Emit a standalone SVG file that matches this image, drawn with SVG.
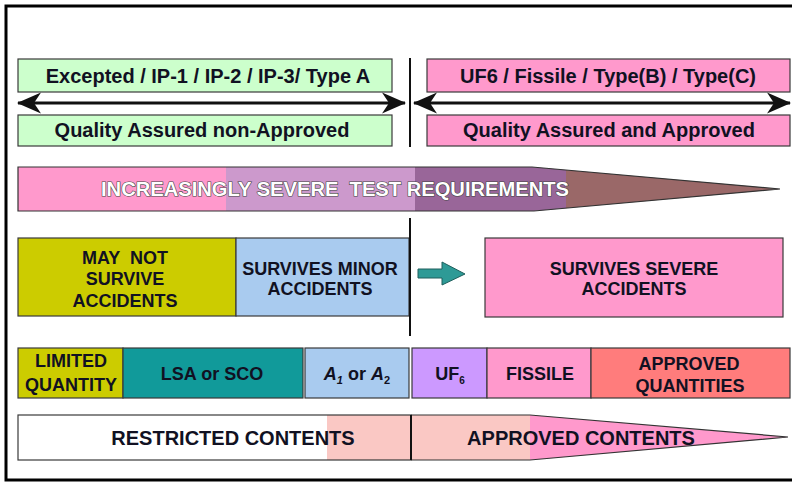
<svg xmlns="http://www.w3.org/2000/svg" width="794" height="484" viewBox="0 0 794 484">
<style>
  .box{stroke:#3a3a3a;stroke-width:1.2}
  .t{font-family:"Liberation Sans",Arial,sans-serif;font-weight:bold;fill:#111122;text-anchor:middle}
  .t20{font-size:20px}
  .t18{font-size:18px}
  .band{font-family:"Liberation Sans Narrow","Liberation Sans",Arial,sans-serif;font-size:20px;font-weight:bold;fill:#ffffff;stroke:#444444;stroke-width:1.2;paint-order:stroke;text-anchor:middle}
  .dbl{stroke:#111;stroke-width:3;fill:none}
  .div{stroke:#111;stroke-width:2}
</style>
<defs>
  <marker id="ah" markerUnits="userSpaceOnUse" markerWidth="24" markerHeight="22" viewBox="0 0 24 22" refX="23" refY="11" orient="auto-start-reverse">
    <path d="M24,11 L0,0.5 L7,11 L0,21.5 Z" fill="#111"/>
  </marker>
</defs>
<rect width="794" height="484" fill="#ffffff"/>
<path d="M792,6 H6 V480 H792" fill="none" stroke="#000" stroke-width="3"/>

<g id="node-excepted">
  <rect class="box" x="18" y="59" width="374" height="33" fill="#CCFFCC"/>
  <text class="t t20" x="208" y="82.5">Excepted / IP-1 / IP-2 / IP-3/ Type A</text>
</g>
<g id="node-qa-non-approved">
  <rect class="box" x="18" y="115" width="374" height="31" fill="#CCFFCC"/>
  <text class="t t20" x="202" y="137">Quality Assured non-Approved</text>
</g>
<g id="node-uf6-fissile">
  <rect class="box" x="427" y="59" width="363" height="33" fill="#FF99CC"/>
  <text class="t t20" x="608" y="82.5">UF6 / Fissile / Type(B) / Type(C)</text>
</g>
<g id="node-qa-approved">
  <rect class="box" x="427" y="115" width="363" height="31" fill="#FF99CC"/>
  <text class="t t20" x="609" y="137">Quality Assured and Approved</text>
</g>

<g id="node-test-requirements">
  <clipPath id="bandclip"><path d="M18,167 H532 L780,189 L534,211 H18 Z"/></clipPath>
  <g clip-path="url(#bandclip)">
    <rect x="18" y="160" width="208" height="60" fill="#FF99CC"/>
    <rect x="226" y="160" width="189" height="60" fill="#CC99CC"/>
    <rect x="415" y="160" width="151" height="60" fill="#996699"/>
    <rect x="566" y="160" width="220" height="60" fill="#9A6868"/>
  </g>
  <path d="M18,167 H532 L780,189 L534,211 H18 Z" fill="none" stroke="#333" stroke-width="1.2"/>
  <text class="band" x="335" y="196" textLength="468" lengthAdjust="spacingAndGlyphs" xml:space="preserve">INCREASINGLY SEVERE  TEST REQUIREMENTS</text>
</g>

<g id="node-may-not-survive">
  <rect class="box" x="18" y="238" width="218" height="78" fill="#CCCC00"/>
  <text class="t t18" x="125" y="263.5" xml:space="preserve">MAY  NOT</text>
  <text class="t t18" x="125" y="285">SURVIVE</text>
  <text class="t t18" x="125" y="306.5">ACCIDENTS</text>
</g>
<g id="node-survives-minor">
  <rect class="box" x="236" y="238" width="173" height="78" fill="#A9CBEF"/>
  <text class="t t18" x="320" y="274.5">SURVIVES MINOR</text>
  <text class="t t18" x="320" y="295">ACCIDENTS</text>
</g>
<g id="node-survives-severe">
  <rect class="box" x="485" y="238" width="298" height="79" fill="#FF99CC"/>
  <text class="t t18" x="634" y="274.5">SURVIVES SEVERE</text>
  <text class="t t18" x="634" y="295">ACCIDENTS</text>
</g>

<g id="node-limited-quantity">
  <rect class="box" x="18" y="348" width="105" height="50" fill="#CCCC00"/>
  <text class="t t18" x="71" y="366.5">LIMITED</text>
  <text class="t t18" x="71" y="390.5">QUANTITY</text>
</g>
<g id="node-lsa-sco">
  <rect class="box" x="123" y="348" width="180" height="50" fill="#119A9A"/>
  <text class="t t18" x="212" y="379.5">LSA or SCO</text>
</g>
<g id="node-a1-a2">
  <rect class="box" x="305" y="348" width="104" height="50" fill="#A9CBEF"/>
  <text class="t t18" x="357" y="379.5"><tspan font-style="italic">A</tspan><tspan font-style="italic" font-size="11" dy="4">1</tspan><tspan dy="-4"> or </tspan><tspan font-style="italic">A</tspan><tspan font-size="11" dy="4">2</tspan></text>
</g>
<g id="node-uf6">
  <rect class="box" x="412" y="348" width="75" height="50" fill="#CC99FF"/>
  <text class="t t18" x="450" y="379.5">UF<tspan font-size="10" dy="4">6</tspan></text>
</g>
<g id="node-fissile">
  <rect class="box" x="487" y="348" width="104" height="50" fill="#FF99CC"/>
  <text class="t t18" x="540" y="379.5">FISSILE</text>
</g>
<g id="node-approved-quantities">
  <rect class="box" x="591" y="348" width="199" height="50" fill="#FF7C7C"/>
  <text class="t t18" x="689" y="369.5">APPROVED</text>
  <text class="t t18" x="690" y="391.5">QUANTITIES</text>
</g>

<g id="node-restricted-contents">
  <rect x="18" y="415" width="309" height="45" fill="#ffffff"/>
  <rect x="327" y="415" width="84" height="45" fill="#FAC8C4"/>
  <rect class="box" x="18" y="415" width="393" height="45" fill="none"/>
  <text class="t t20" x="233" y="445">RESTRICTED CONTENTS</text>
</g>
<g id="node-approved-contents">
  <path d="M411,415 H530 V460 H411 Z" fill="#FAC8C4"/>
  <path d="M530,415 L788,437 L530,460 Z" fill="#FF99CC"/>
  <path d="M411,415 H530 L788,437 L530,460 H411" fill="none" stroke="#333" stroke-width="1.2"/>
  <text class="t t20" x="581" y="445">APPROVED CONTENTS</text>
</g>

<g id="dividers">
  <line class="div" x1="410" y1="58" x2="410" y2="147"/>
  <line class="div" x1="410" y1="218" x2="410" y2="336"/>
  <line class="div" x1="411" y1="415" x2="411" y2="460"/>
</g>

<g id="connectors">
  <line class="dbl" x1="18" y1="103" x2="405" y2="103" marker-start="url(#ah)" marker-end="url(#ah)"/>
  <line class="dbl" x1="414" y1="103" x2="790" y2="103" marker-start="url(#ah)" marker-end="url(#ah)"/>
  <path d="M418,269 H442 V262 L465,274 L442,285 V278 H418 Z" fill="#2E9A96" stroke="#1f5f5c" stroke-width="1"/>
</g>
</svg>
